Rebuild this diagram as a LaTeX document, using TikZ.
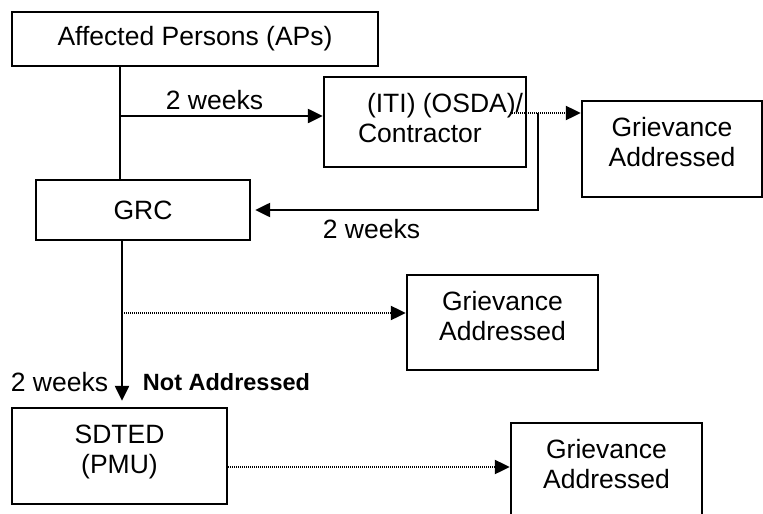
\documentclass[tikz,border=0pt]{standalone}
\usepackage{fontspec}
\setmainfont{Liberation Sans}
\usetikzlibrary{arrows.meta}
\newcommand{\bxc}[3]{\parbox[c][#2][t]{#1}{\centering\vspace*{16.5pt}#3}}
\tikzset{
  box/.style={draw, line width=2.4pt, inner sep=0pt},
  conn/.style={line width=2.4pt},
  arr/.style={conn, -{Triangle[length=15pt,width=14pt]}},
  dotarr/.style={arr, line width=2.2pt, dash pattern=on 1pt off 1pt},
  lbl/.style={inner sep=0pt, anchor=base},
}
\begin{document}
\begin{tikzpicture}[x=1pt,y=-1pt,font=\fontsize{26.5}{30}\selectfont]
\useasboundingbox (0,0) rectangle (763,514);
\clip (0,0) rectangle (763,514);
% boxes
\node[box, minimum width=366pt, minimum height=54pt] (aps) at (195,39) {Affected Persons (APs)};
\node[box] (iti) at (425,122) {\parbox[c][90pt][t]{202pt}{\raggedright\vspace*{16pt}\hspace*{43pt}(ITI) (OSDA)/\\\hspace*{34pt}Contractor}};
\node[box] (ga1) at (672,149) {\bxc{180pt}{96pt}{Grievance\\Addressed}};
\node[box, minimum width=214pt, minimum height=60pt] (grc) at (143,210) {GRC};
\node[box] (ga2) at (502.5,322.5) {\bxc{191pt}{95pt}{Grievance\\Addressed}};
\node[box] (sdted) at (119.5,456) {\bxc{215pt}{96pt}{SDTED\\(PMU)}};
\node[box] (ga3) at (606.5,472) {\bxc{191pt}{98pt}{Grievance\\Addressed}};
% labels
\node[lbl] (w1) at (214.5,109) {2 weeks};
\node[lbl] (w2) at (371.5,238) {2 weeks};
\node[lbl] (w3) at (59.5,391) {2 weeks};
\node[lbl, font=\fontsize{23.5}{28}\selectfont\bfseries] (na) at (226.5,390) {Not Addressed};
% branch coordinates
\coordinate (t1) at (120,116);
\coordinate (d1) at (510,113);
\coordinate (r1) at (538,113);
\coordinate (t2) at (122,313);
\coordinate (d3) at (229,467);
% connectors
\draw[conn] (aps.south -| t1) -- (grc.north -| t1);
\draw[arr] (t1) -- (t1 -| iti.west);
\draw[dotarr] (d1) -- (d1 -| ga1.west);
\draw[arr, shorten >=4pt] (r1) -- (r1 |- grc.east) -- (grc.east);
\draw[arr, shorten >=6pt] (grc.south -| t2) -- (sdted.north -| t2);
\draw[dotarr] (t2) -- (t2 -| ga2.west);
\draw[dotarr] (d3 -| sdted.east) -- (d3 -| ga3.west);
\end{tikzpicture}
\end{document}
